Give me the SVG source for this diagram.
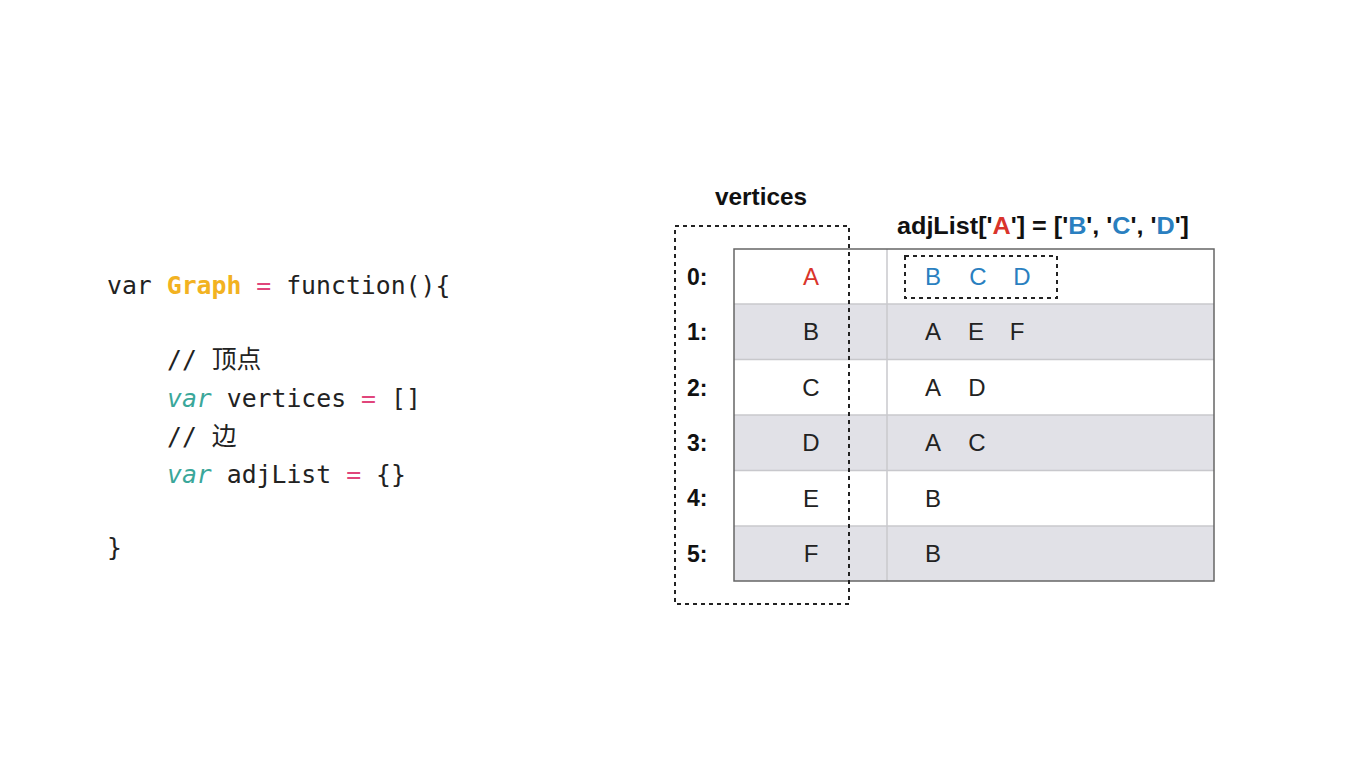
<svg xmlns="http://www.w3.org/2000/svg" width="1349" height="779" viewBox="0 0 1349 779">
<style>
.code{font-family:"DejaVu Sans Mono","Noto Sans CJK SC",monospace;font-size:24.8px;fill:#222}
.kw{fill:#3aa79a;font-style:italic}
.op{fill:#e0457b}
.gr{fill:#f2b221;font-weight:bold}
.lbl{font-family:"Liberation Sans",Arial,sans-serif;font-size:24px;font-weight:bold;fill:#111}
.idx{font-family:"Liberation Sans",Arial,sans-serif;font-size:23px;font-weight:bold;fill:#111}
.cell{font-family:"Liberation Sans",Arial,sans-serif;font-size:24px;fill:#222;text-anchor:middle}
.dash{fill:none;stroke:#222;stroke-width:2;stroke-dasharray:4 4}
.grow{fill:#e1e1e7}
.sep{stroke:#c8c8cc;stroke-width:1.5}
</style>
<rect width="1349" height="779" fill="#fff"/>
<g id="code">
<text class="code" x="107" y="294">var <tspan class="gr">Graph</tspan> <tspan class="op">=</tspan> function(){</text>
<text class="code" x="167" y="368">// 顶点</text>
<text class="code" x="167" y="407"><tspan class="kw">var</tspan> vertices <tspan class="op">=</tspan> []</text>
<text class="code" x="167" y="445">// 边</text>
<text class="code" x="167" y="483"><tspan class="kw">var</tspan> adjList <tspan class="op">=</tspan> {}</text>
<text class="code" x="107" y="556">}</text>
</g>
<g id="table">
<rect x="734" y="249" width="480" height="332" fill="#fff"/>
<rect class="grow" x="734" y="304" width="480" height="55.5"/>
<rect class="grow" x="734" y="415" width="480" height="55.5"/>
<rect class="grow" x="734" y="526" width="480" height="55"/>
<line class="sep" x1="734" y1="304" x2="1214" y2="304"/>
<line class="sep" x1="734" y1="359.5" x2="1214" y2="359.5"/>
<line class="sep" x1="734" y1="415" x2="1214" y2="415"/>
<line class="sep" x1="734" y1="470.5" x2="1214" y2="470.5"/>
<line class="sep" x1="734" y1="526" x2="1214" y2="526"/>
<line class="sep" x1="887" y1="249" x2="887" y2="581"/>
<rect x="734" y="249" width="480" height="332" fill="none" stroke="#666" stroke-width="1.5"/>
</g>
<g id="indices">
<text class="idx" x="687" y="285">0:</text>
<text class="idx" x="687" y="340">1:</text>
<text class="idx" x="687" y="396">2:</text>
<text class="idx" x="687" y="451">3:</text>
<text class="idx" x="687" y="506">4:</text>
<text class="idx" x="687" y="562">5:</text>
</g>
<g id="vertex-cells">
<text class="cell" x="811" y="285" style="fill:#d9342b">A</text>
<text class="cell" x="811" y="340">B</text>
<text class="cell" x="811" y="396">C</text>
<text class="cell" x="811" y="451">D</text>
<text class="cell" x="811" y="507">E</text>
<text class="cell" x="811" y="562">F</text>
</g>
<g id="adj-cells">
<text class="cell" x="933" y="285" style="fill:#2a7fc0">B</text>
<text class="cell" x="978" y="285" style="fill:#2a7fc0">C</text>
<text class="cell" x="1022" y="285" style="fill:#2a7fc0">D</text>
<text class="cell" x="933" y="340">A</text>
<text class="cell" x="976" y="340">E</text>
<text class="cell" x="1017" y="340">F</text>
<text class="cell" x="933" y="396">A</text>
<text class="cell" x="977" y="396">D</text>
<text class="cell" x="933" y="451">A</text>
<text class="cell" x="977" y="451">C</text>
<text class="cell" x="933" y="507">B</text>
<text class="cell" x="933" y="562">B</text>
</g>
<g id="vertices-box">
<rect class="dash" x="675" y="226" width="174" height="378"/>
<text class="lbl" x="715" y="205" textLength="92" lengthAdjust="spacingAndGlyphs">vertices</text>
</g>
<g id="adj-box">
<rect class="dash" x="905" y="256" width="152" height="42"/>
<text class="lbl" x="897" y="234" textLength="292" lengthAdjust="spacingAndGlyphs">adjList['<tspan fill="#d9342b">A</tspan>'] = ['<tspan fill="#2a7fc0">B</tspan>', '<tspan fill="#2a7fc0">C</tspan>', '<tspan fill="#2a7fc0">D</tspan>']</text>
</g>
</svg>
